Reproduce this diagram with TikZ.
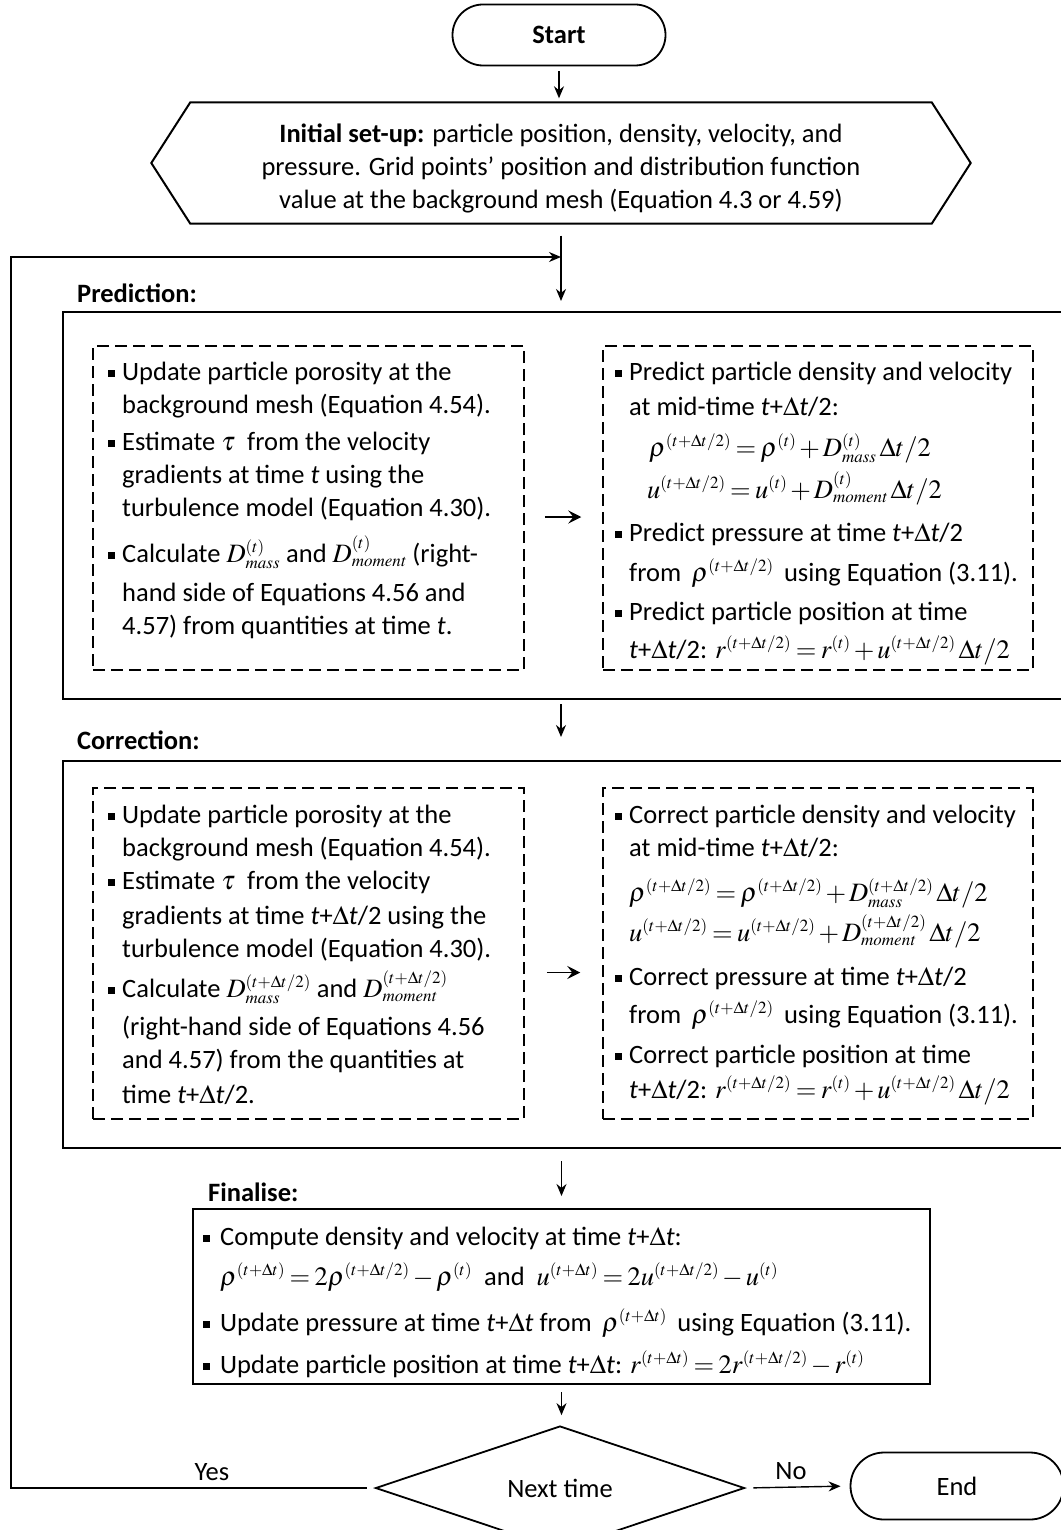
\documentclass[tikz,border=0pt]{standalone}
\usepackage{mathptmx}
\usepackage[no-math]{fontspec}
\setmainfont{Carlito}
\usetikzlibrary{shapes.misc,shapes.geometric,arrows.meta,calc}

\DeclareMathSizes{26.5}{26.5}{17}{13}
\newcommand{\fsz}{\fontsize{26.5}{33}\selectfont\medmuskip=2mu\thickmuskip=3mu}
\newcommand{\sqb}{\rule[3.5pt]{7pt}{7pt}}
\newcommand{\mth}[1]{\smash{$#1$}}
\newcommand{\tdt}{\textit{t}+$\Delta$\textit{t}/2}
\newcommand{\tdtf}{\textit{t}+$\Delta$\textit{t}}

\begin{document}
\begin{tikzpicture}[x=1pt,y=-1pt,
  every node/.append style={font=\fsz},
  frame/.style={draw, line width=2pt, inner sep=0pt},
  dbox/.style={draw, line width=1.5pt, dash pattern=on 12pt off 6pt, inner sep=0pt},
  term/.style={draw, line width=1.8pt, rounded rectangle, inner sep=0pt},
  txt/.style={anchor=north west, inner sep=0pt},
  lbl/.style={anchor=west, inner sep=0pt, font=\fsz\bfseries},
  arr/.style={line width=1.4pt, -{Stealth[length=12pt,width=10pt]}},
  small arr/.style={line width=1.4pt, -{Stealth[length=13pt,width=13pt,inset=5pt]}}]
  \useasboundingbox (0,0) rectangle (1060,1530);

  % start and initial set-up
  \node[term, minimum width=213, minimum height=61, font=\fsz\bfseries] (start) at (559,35) {Start};
  \node[minimum width=741, minimum height=121, inner sep=0pt] (init) at (561,163)
    {\raisebox{-6pt}[\height][\depth]{\begin{tabular}{@{}c@{}}
     \textbf{Initial set-up:} particle position, density, velocity, and\\
     pressure. Grid points’ position and distribution function\\
     value at the background mesh (Equation 4.3 or 4.59)\end{tabular}}};
  \draw[line width=2pt] (init.north west) -- (init.north east) -- ($(init.east)+(39,0)$)
    -- (init.south east) -- (init.south west) -- ($(init.west)+(-39,0)$) -- cycle;

  % prediction
  \node[lbl] (predlbl) at (77,293) {Prediction:};
  \node[frame, minimum width=1012, minimum height=387] (pred) at (569,505.5) {};
  \node[dbox, minimum width=431, minimum height=324] (predL) at (308.5,508) {};
  \node[dbox, minimum width=430, minimum height=324] (predR) at (818,508) {};
  \node[txt] (predLtxt) at (108,357) {\begin{tabular}{@{}l@{\hspace{7pt}}l@{}}
    \sqb & Update particle porosity at the\\
         & background mesh (Equation 4.54).\\[4pt]
    \sqb & Estimate $\tau$\ \ from the velocity\\
         & gradients at time \textit{t} using the\\
         & turbulence model (Equation 4.30).\\[13pt]
    \sqb & Calculate \mth{D^{(t)}_{\mathit{mass}}} and \mth{D^{(t)}_{\mathit{moment}}} (right-\\[6pt]
         & hand side of Equations 4.56 and\\
         & 4.57) from quantities at time \textit{t}.
  \end{tabular}};
  \node[txt] (predRtxt) at (615,357) {\begin{tabular}{@{}l@{\hspace{7pt}}l@{}}
    \sqb & Predict particle density and velocity\\[2pt]
         & at mid-time \tdt:\\[8pt]
         & \hspace{20pt}\mth{\rho^{(t+\Delta t/2)}=\rho^{(t)}+D^{(t)}_{\mathit{mass}}\,\Delta t/2}\\[9pt]
         & \hspace{18pt}\mth{u^{(t+\Delta t/2)}=u^{(t)}+D^{(t)}_{\mathit{moment}}\,\Delta t/2}\\[10pt]
    \sqb & Predict pressure at time \tdt\\[7pt]
         & from \mth{\;\rho^{(t+\Delta t/2)}\;} using Equation (3.11).\\[6pt]
    \sqb & Predict particle position at time\\[5pt]
         & \tdt: \mth{r^{(t+\Delta t/2)}=r^{(t)}+u^{(t+\Delta t/2)}\,\Delta t/2}
  \end{tabular}};
  \draw[small arr, shorten <=20pt, shorten >=21pt] ([yshift=-9pt]predL.east) -- ([yshift=-9pt]predR.west);

  % correction
  \node[lbl] (corrlbl) at (77,740) {Correction:};
  \node[frame, minimum width=1012, minimum height=387] (corr) at (569,954.5) {};
  \node[dbox, minimum width=431, minimum height=331] (corrL) at (308.5,953.5) {};
  \node[dbox, minimum width=430, minimum height=331] (corrR) at (818,953.5) {};
  \node[txt] (corrLtxt) at (108,800) {\begin{tabular}{@{}l@{\hspace{7pt}}l@{}}
    \sqb & Update particle porosity at the\\
         & background mesh (Equation 4.54).\\
    \sqb & Estimate $\tau$\ \ from the velocity\\[2pt]
         & gradients at time \tdt{} using the\\
         & turbulence model (Equation 4.30).\\[7pt]
    \sqb & Calculate \mth{D^{(t+\Delta t/2)}_{\mathit{mass}}} and \mth{D^{(t+\Delta t/2)}_{\mathit{moment}}}\\[5pt]
         & (right-hand side of Equations 4.56\\
         & and 4.57) from the quantities at\\[2pt]
         & time \tdt.
  \end{tabular}};
  \node[txt] (corrRtxt) at (615,800) {\begin{tabular}{@{}l@{\hspace{7pt}}l@{}}
    \sqb & Correct particle density and velocity\\
         & at mid-time \tdt:\\[12pt]
         & \mth{\rho^{(t+\Delta t/2)}=\rho^{(t+\Delta t/2)}+D^{(t+\Delta t/2)}_{\mathit{mass}}\,\Delta t/2}\\[7pt]
         & \mth{u^{(t+\Delta t/2)}=u^{(t+\Delta t/2)}+D^{(t+\Delta t/2)}_{\mathit{moment}}\,\Delta t/2}\\[11pt]
    \sqb & Correct pressure at time \tdt\\[5pt]
         & from \mth{\;\rho^{(t+\Delta t/2)}\;} using Equation (3.11).\\[7pt]
    \sqb & Correct particle position at time\\[2pt]
         & \tdt: \mth{r^{(t+\Delta t/2)}=r^{(t)}+u^{(t+\Delta t/2)}\,\Delta t/2}
  \end{tabular}};
  \draw[small arr, shorten <=22pt, shorten >=22pt] ([yshift=-19pt]corrL.east) -- ([yshift=-19pt]corrR.west);

  % finalise
  \node[lbl] (finlbl) at (208,1192) {Finalise:};
  \node[frame, minimum width=737, minimum height=175] (fin) at (561.5,1296.5) {};
  \node[txt] (fintxt) at (203,1222) {\begin{tabular}{@{}l@{\hspace{10pt}}l@{}}
    \sqb & Compute density and velocity at time \tdtf:\\[7pt]
         & \mth{\rho^{(t+\Delta t)}=2\rho^{(t+\Delta t/2)}-\rho^{(t)}} \ and \ \mth{u^{(t+\Delta t)}=2u^{(t+\Delta t/2)}-u^{(t)}}\\[13pt]
    \sqb & Update pressure at time \tdtf{} from \mth{\;\rho^{(t+\Delta t)}\;} using Equation (3.11).\\[9pt]
    \sqb & Update particle position at time \tdtf: \mth{r^{(t+\Delta t)}=2r^{(t+\Delta t/2)}-r^{(t)}}
  \end{tabular}};

  % decision and end
  \node[draw, diamond, line width=1.8pt, inner sep=0pt, minimum width=369, minimum height=100] (next) at (560,1488) {Next time};
  \node[term, minimum width=213, minimum height=67] (end) at (957,1486) {End};
  \node (yes) at (212,1472) {Yes};
  \node (no) at (791,1471) {No};

  % connectors
  \coordinate (join) at (561,257);
  \coordinate (loopc) at (11,1487);
  \draw[arr, shorten <=5pt, shorten >=4pt] (start.south) -- (start.south |- init.north);
  \draw[arr, shorten <=12pt, shorten >=10pt] (init.south) -- (init.south |- pred.north);
  \draw[arr, shorten <=4pt, shorten >=23pt] (init.south |- pred.south) -- (init.south |- corr.north);
  \draw[arr, shorten <=12pt, shorten >=12pt] (fin.north |- corr.south) -- (fin.north);
  \draw[arr, shorten <=7pt, shorten >=10pt] (fin.south) -- (fin.south |- next.north);
  \draw[arr, shorten <=8pt, shorten >=9pt] (next.east) -- (end.west);
  \draw[arr, shorten <=8pt] (next.west) -- (next.west -| loopc) |- (join);
\end{tikzpicture}
\end{document}
